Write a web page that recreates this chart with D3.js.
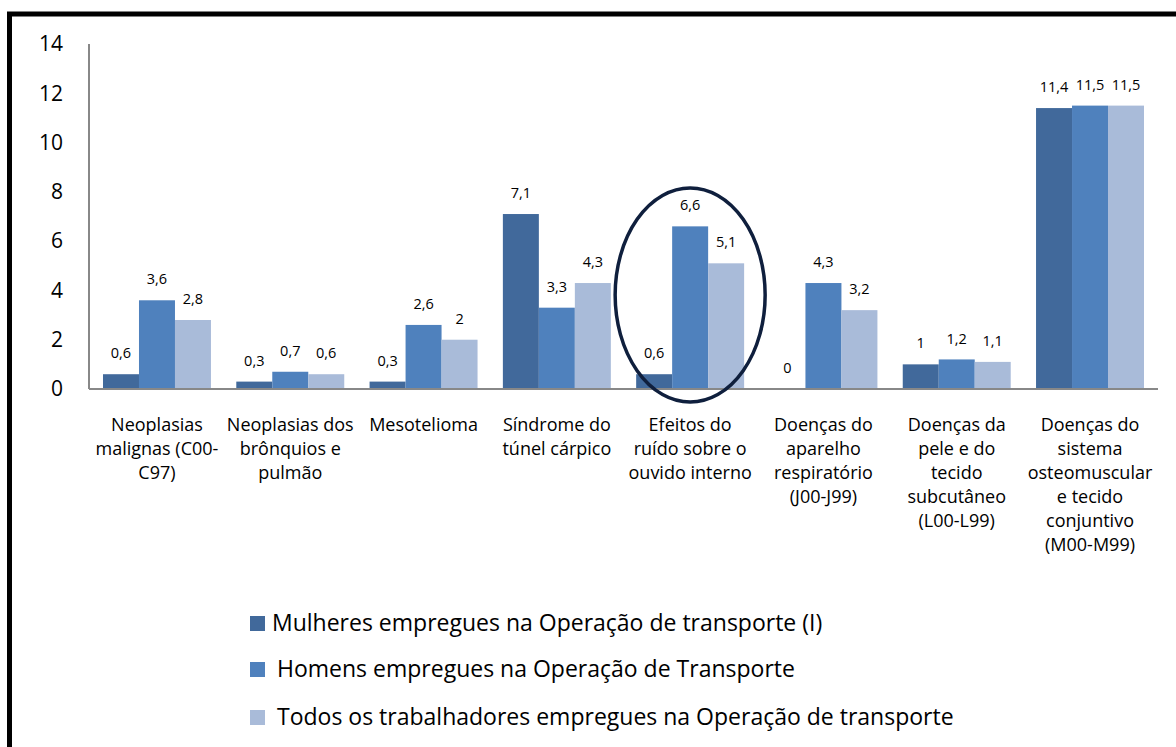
<!DOCTYPE html>
<html><head><meta charset="utf-8">
<script src="https://cdn.jsdelivr.net/npm/d3@7"></script>
<style>body{margin:0;background:#fff}svg{display:block}text{font-family:"Open Sans",Lato,sans-serif;fill:#000}</style>
</head><body>
<script>
const categories = [
  ["Neoplasias","malignas (C00-","C97)"],
  ["Neoplasias dos","brônquios e","pulmão"],
  ["Mesotelioma"],
  ["Síndrome do","túnel cárpico"],
  ["Efeitos do","ruído sobre o","ouvido interno"],
  ["Doenças do","aparelho","respiratório","(J00-J99)"],
  ["Doenças da","pele e do","tecido","subcutâneo","(L00-L99)"],
  ["Doenças do","sistema","osteomuscular","e tecido","conjuntivo","(M00-M99)"]
];
const seriesNames = [
  "Mulheres empregues na Operação de transporte (I)",
  "Homens empregues na Operação de Transporte",
  "Todos os trabalhadores empregues na Operação de transporte"
];
const mulheres = [0.6, 0.3, 0.3, 7.1, 0.6, 0, 1, 11.4];
const homens   = [3.6, 0.7, 2.6, 3.3, 6.6, 4.3, 1.2, 11.5];
const todos    = [2.8, 0.6, 2, 4.3, 5.1, 3.2, 1.1, 11.5];
const yTicks = [0, 2, 4, 6, 8, 10, 12, 14];
const colors = ["#41699b", "#4f81bd", "#a9bbd9"];
const highlighted = 4;

const W = 1176, H = 747;
const svg = d3.select("body").append("svg").attr("width", W).attr("height", H);
svg.append("rect").attr("x", 9.5).attr("y", 14).attr("width", W).attr("height", H)
  .attr("fill", "none").attr("stroke", "#000").attr("stroke-width", 5);

const x0 = 89, x1 = 1158, yb = 389, yt = 44;
const x = d3.scaleBand().domain(d3.range(categories.length)).range([x0, x1]).paddingInner(0.19).paddingOuter(0.105);
const xs = d3.scaleBand().domain([0,1,2]).range([0, x.bandwidth()]);
const y = d3.scaleLinear().domain([0, 14]).range([yb, yt]);
const series = [mulheres, homens, todos];

// y axis
svg.append("line").attr("x1", x0).attr("x2", x0).attr("y1", yt).attr("y2", yb).attr("stroke", "#888").attr("stroke-width", 2);
svg.selectAll(".ytick").data(yTicks).join("text").attr("class","ytick")
  .attr("x", 63).attr("y", d => y(d)).attr("dy", "0.35em").attr("text-anchor", "end")
  .style("font-size", "21px").text(d => d);

// bars
series.forEach((vals, si) => {
  const g = svg.append("g");
  g.selectAll("rect").data(vals).join("rect")
    .attr("x", (d, i) => x(i) + xs(si)).attr("width", xs.bandwidth())
    .attr("y", d => y(d)).attr("height", d => y(0) - y(d))
    .attr("fill", colors[si]);
  g.selectAll("text").data(vals).join("text")
    .attr("x", (d, i) => x(i) + xs(si) + xs.bandwidth()/2)
    .attr("y", d => y(d) - 21).attr("dy", "0.35em").attr("text-anchor", "middle")
    .style("font-size", "14.5px").text(d => String(d).replace(".", ","));
});

// baseline
svg.append("line").attr("x1", x0).attr("x2", x1).attr("y1", yb).attr("y2", yb).attr("stroke", "#888").attr("stroke-width", 2);

// category labels
categories.forEach((lines, i) => {
  const t = svg.append("text").attr("text-anchor", "middle").style("font-size", "18px");
  lines.forEach((l, j) => t.append("tspan").attr("x", x(i) + x.bandwidth()/2).attr("y", 425 + j*24).attr("dy", "0.35em").text(l));
});

// highlight ellipse
svg.append("ellipse").attr("cx", x(highlighted) + x.bandwidth()/2).attr("cy", 295)
  .attr("rx", 75).attr("ry", 107).attr("fill", "none").attr("stroke", "#0f1f3d").attr("stroke-width", 3.5);

// legend
const legY = [623, 669, 717];
const legTx = [272, 277, 277];
seriesNames.forEach((n, i) => {
  svg.append("rect").attr("x", 250).attr("y", legY[i] - 7).attr("width", 15).attr("height", 15).attr("fill", colors[i]);
  svg.append("text").attr("x", legTx[i]).attr("y", legY[i]).attr("dy", "0.35em").style("font-size", "23px").text(n);
});
</script>
</body></html>
